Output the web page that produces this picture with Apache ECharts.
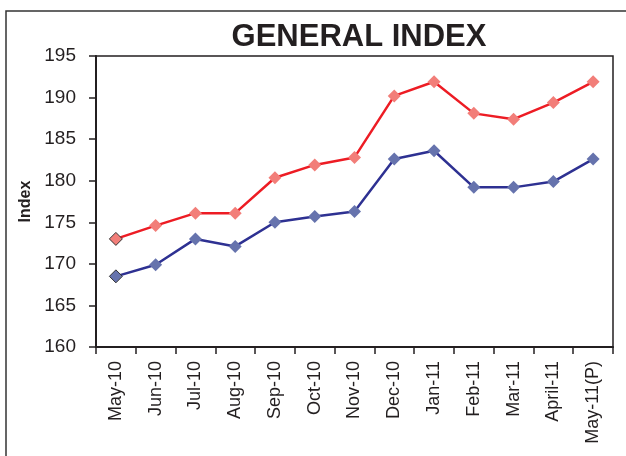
<!DOCTYPE html>
<html>
<head>
<meta charset="utf-8">
<script src="https://cdn.jsdelivr.net/npm/echarts@6/dist/echarts.min.js"></script>
<style>
  html, body { margin: 0; padding: 0; background: #fff; }
  #chart { width: 626px; height: 456px; }
</style>
</head>
<body>
<div id="chart"></div>
<script>
  // data
  var months = ['May-10', 'Jun-10', 'Jul-10', 'Aug-10', 'Sep-10', 'Oct-10', 'Nov-10',
                'Dec-10', 'Jan-11', 'Feb-11', 'Mar-11', 'April-11', 'May-11(P)'];
  var upperIndex = [173.0, 174.6, 176.1, 176.1, 180.35, 181.9, 182.8, 190.2, 191.9, 188.1, 187.4, 189.4, 191.9];
  var lowerIndex = [168.5, 169.9, 173.0, 172.1, 175.0, 175.7, 176.3, 182.6, 183.6, 179.2, 179.2, 179.9, 182.6];

  var txt = '#231f20';

  // first point of each line has an outlined marker
  function withFirstOutlined(values) {
    return values.map(function (v, i) {
      if (i === 0) {
        return { value: v, itemStyle: { borderColor: '#333', borderWidth: 1 } };
      }
      return v;
    });
  }

  var chart = echarts.init(document.getElementById('chart'));
  var option = {
    animation: false,
    title: {
      text: 'GENERAL INDEX',
      left: 354,
      textAlign: 'center',
      top: 17,
      textStyle: { fontFamily: 'Liberation Sans', fontWeight: 'bold', fontSize: 31, color: txt }
    },
    graphic: [{
      type: 'rect',
      shape: { x: 6, y: 11, width: 700, height: 500 },
      style: { fill: 'none', stroke: '#333', lineWidth: 1.5 }
    }],
    grid: {
      left: 96, right: 13, top: 56, bottom: 109,
      show: true, borderColor: txt, borderWidth: 1.5
    },
    xAxis: {
      type: 'category',
      data: months,
      boundaryGap: true,
      axisLine: { lineStyle: { color: txt, width: 2 } },
      axisTick: { show: true, length: 7, lineStyle: { color: txt, width: 1.5 } },
      axisLabel: {
        interval: 0, rotate: 90, margin: 14,
        fontFamily: 'Liberation Sans', fontSize: 18, color: txt
      },
      splitLine: { show: false }
    },
    yAxis: {
      type: 'value',
      min: 160, max: 195, interval: 5,
      name: 'Index',
      nameLocation: 'middle',
      nameGap: 58,
      nameTextStyle: { fontFamily: 'Liberation Sans', fontWeight: 'bold', fontSize: 16, color: txt },
      axisLine: { show: true, lineStyle: { color: txt, width: 2 } },
      axisTick: { show: true, length: 7, lineStyle: { color: txt, width: 1.5 } },
      axisLabel: { margin: 20, fontFamily: 'Liberation Sans', fontSize: 19, color: txt },
      splitLine: { show: false }
    },
    series: [{
      name: 'upper',
      type: 'line',
      data: withFirstOutlined(upperIndex),
      symbol: 'diamond',
      symbolSize: 13,
      lineStyle: { color: '#ed1c24', width: 2.5 },
      itemStyle: { color: '#f27e79' }
    }, {
      name: 'lower',
      type: 'line',
      data: withFirstOutlined(lowerIndex),
      symbol: 'diamond',
      symbolSize: 13,
      lineStyle: { color: '#2e3192', width: 2.5 },
      itemStyle: { color: '#6673ad' }
    }]
  };
  chart.setOption(option);
</script>
</body>
</html>
